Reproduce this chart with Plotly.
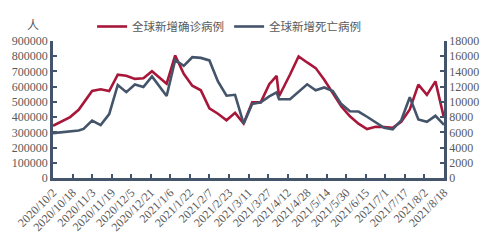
import plotly.graph_objects as go
from datetime import datetime

# ---------------- data ----------------
dates = [
    "2020-10-02", "2020-10-09", "2020-10-16", "2020-10-23", "2020-10-27",
    "2020-11-03", "2020-11-10", "2020-11-17", "2020-11-24", "2020-12-01",
    "2020-12-08", "2020-12-15", "2020-12-22", "2020-12-29", "2021-01-03",
    "2021-01-10", "2021-01-17", "2021-01-24", "2021-01-31", "2021-02-07",
    "2021-02-14", "2021-02-21", "2021-02-28", "2021-03-07", "2021-03-14",
    "2021-03-21", "2021-03-28", "2021-04-03", "2021-04-05", "2021-04-14",
    "2021-04-21", "2021-04-28", "2021-05-05", "2021-05-12", "2021-05-19",
    "2021-05-26", "2021-06-02", "2021-06-09", "2021-06-16", "2021-06-23",
    "2021-06-30", "2021-07-07", "2021-07-14", "2021-07-21", "2021-07-28",
    "2021-08-04", "2021-08-11", "2021-08-18",
]

cases = [
    343000, 370000, 400000, 448000, 492000,
    572000, 583000, 571000, 679000, 672000,
    651000, 655000, 702000, 651000, 620000,
    805000, 685000, 606000, 576000, 458000,
    422000, 379000, 428000, 358000, 497000,
    497000, 616000, 671000, 537000, 680000,
    798000, 759000, 722000, 645000, 559000,
    470000, 405000, 357000, 322000, 337000,
    335000, 330000, 369000, 450000, 613000,
    546000, 635000, 395000,
]

deaths = [
    5900, 6040, 6100, 6230, 6450,
    7540, 6950, 8400, 12230, 11280,
    12280, 11960, 13340, 11770, 10770,
    15500, 14740, 15870, 15780, 15450,
    12690, 10810, 10930, 7140, 9740,
    9950, 10730, 11250, 10340, 10340,
    11370, 12310, 11520, 11900, 11430,
    9710, 8760, 8730, 8050, 7380,
    6600, 6390, 7580, 10600, 7700,
    7380, 8170, 6990,
]

x_tick_labels = [
    "2020/10/2", "2020/10/18", "2020/11/3", "2020/11/19", "2020/12/5",
    "2020/12/21", "2021/1/6", "2021/1/22", "2021/2/7", "2021/2/23",
    "2021/3/11", "2021/3/27", "2021/4/12", "2021/4/28", "2021/5/14",
    "2021/5/30", "2021/6/15", "2021/7/1", "2021/7/17", "2021/8/2",
    "2021/8/18",
]

series_names = ["全球新增确诊病例", "全球新增死亡病例"]
left_unit = "人"

# ---------------- styling ----------------
RED = "#A8173A"
SLATE = "#44546A"
TXT = "#595959"
SERIF = "Liberation Serif"
CJK = "Noto Sans CJK SC"

tickvals = [datetime.strptime(s, "%Y/%m/%d").strftime("%Y-%m-%d") for s in x_tick_labels]

fig = go.Figure()
fig.add_trace(go.Scatter(
    x=dates, y=cases, name=series_names[0], mode="lines",
    line=dict(color=RED, width=2.6), yaxis="y",
))
fig.add_trace(go.Scatter(
    x=dates, y=deaths, name=series_names[1], mode="lines",
    line=dict(color=SLATE, width=2.6), yaxis="y2",
))

axis_common = dict(
    showgrid=False, zeroline=False,
    showline=True, linecolor=SLATE, linewidth=2.5,
    ticks="inside", ticklen=4, tickwidth=2, tickcolor=SLATE,
    tickfont=dict(family=SERIF, size=12, color=TXT),
)

fig.update_layout(
    width=491, height=246,
    margin=dict(l=47, r=42, t=32, b=62),
    paper_bgcolor="white", plot_bgcolor="white",
    font=dict(family=SERIF, size=12, color=TXT),
    showlegend=True,
    legend=dict(
        orientation="h", x=0.1, xanchor="left", y=1.0, yanchor="bottom",
        font=dict(family=CJK, size=11.5, color=TXT),
        itemwidth=30, tracegroupgap=0, bgcolor="rgba(0,0,0,0)",
    ),
    xaxis=dict(
        type="date",
        range=[tickvals[0], tickvals[-1]],
        tickvals=tickvals, ticktext=x_tick_labels,
        tickangle=-45,
        **axis_common,
    ),
    yaxis=dict(
        range=[0, 900000], dtick=100000, tickformat="d",
        **axis_common,
    ),
    yaxis2=dict(
        range=[0, 18000], dtick=2000, tickformat="d",
        overlaying="y", side="right",
        **axis_common,
    ),
    annotations=[dict(
        text=left_unit, xref="paper", yref="paper",
        x=-0.052, y=1.12, xanchor="center", yanchor="middle",
        showarrow=False, font=dict(family=CJK, size=12, color=TXT),
    )],
)

fig.write_html("out.html")
